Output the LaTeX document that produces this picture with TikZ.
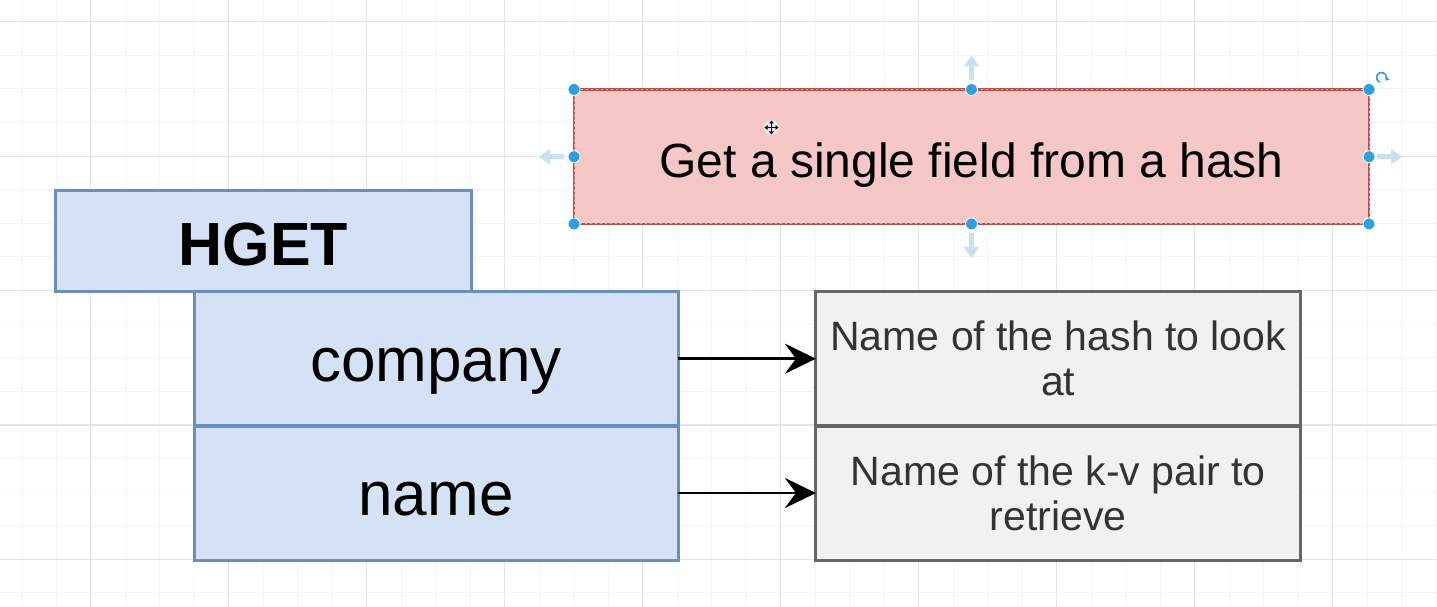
\documentclass[tikz,border=0pt]{standalone}
\usepackage{fontspec}
\setmainfont{Liberation Sans}
\usetikzlibrary{arrows.meta}
\definecolor{bluefill}{RGB}{213,226,245}
\definecolor{bluedraw}{RGB}{108,142,191}
\definecolor{grayfill}{RGB}{241,241,241}
\definecolor{graydraw}{RGB}{102,102,102}
\definecolor{redfill}{RGB}{245,200,199}
\definecolor{reddraw}{RGB}{184,84,80}
\definecolor{reddash}{RGB}{230,160,158}
\definecolor{handledot}{RGB}{45,160,225}
\definecolor{hint}{RGB}{200,224,244}
\definecolor{gridminor}{RGB}{244,244,244}
\definecolor{gridmajor}{RGB}{229,229,229}
\definecolor{textgray}{RGB}{51,51,51}
\begin{document}
\begin{tikzpicture}[x=1pt,y=-1pt,
  bluebox/.style={draw=bluedraw, fill=bluefill, line width=3pt, inner sep=0pt, outer sep=0pt, text=black},
  graybox/.style={draw=graydraw, fill=grayfill, line width=3pt, inner sep=0pt, outer sep=0pt, text=textgray, align=center, font=\fontsize{41}{45}\selectfont},
  redbox/.style={draw=reddraw, fill=redfill, line width=2.4pt, inner sep=0pt, outer sep=0pt, text=black},
  link/.style={line width=2.6pt, -{Stealth[length=31pt,width=30pt,inset=11pt]}},
  handle/.style={circle, fill=handledot, draw=white, line width=0.8pt, minimum size=12pt, inner sep=0pt},
  hintarrow/.style={draw=hint, line width=5pt, -{Triangle[length=11pt,width=15pt]}},
  minorline/.style={draw=gridminor, line width=1pt},
  majorline/.style={draw=gridmajor, line width=1.2pt}
]
\useasboundingbox (0,0) rectangle (1437,607);
\fill[white] (0,0) rectangle (1437,607);
% grid
\foreach \k in {0,...,41} {\draw[minorline] ({21.7+34.5*\k},0) -- ++(0,607);}
\foreach \k in {0,...,17} {\draw[minorline] (0,{21.7+33.6*\k}) -- ++(1437,0);}
\foreach \k in {0,...,9} {\draw[majorline] ({90.7+138*\k},0) -- ++(0,607);}
\foreach \k in {0,...,4} {\draw[majorline] (0,{21.7+134.4*\k}) -- ++(1437,0);}

% left stack
\node[bluebox, minimum width=415.5pt, minimum height=101pt, text height=64pt, text depth=15pt,
      font=\bfseries\fontsize{61}{70}\selectfont] (hget) at (263.3,241) {HGET};
\node[bluebox, minimum width=484pt, minimum height=134.5pt, text height=60pt, text depth=15pt,
      font=\fontsize{62}{70}\selectfont] (company) at (436,358.7) {company};
\node[bluebox, minimum width=484pt, minimum height=134pt, text height=60pt, text depth=15pt,
      font=\fontsize{62}{70}\selectfont] (name) at (436,493) {name};

% right stack
\node[graybox, minimum width=484.5pt, minimum height=134.5pt] (desc1) at (1058.2,358.7) {Name of the hash to look\\at};
\node[graybox, minimum width=484.5pt, minimum height=134pt] (desc2) at (1058.2,493) {Name of the k-v pair to\\retrieve};

% connectors
\draw[link] (company.east) -- (desc1.west);
\draw[link] (name.east) -- (desc2.west);

% selected red box
\node[redbox, minimum width=795pt, minimum height=134.5pt, text height=54pt, text depth=12pt,
      font=\fontsize{48}{56}\selectfont] (title) at (971.5,156.7) {Get a single field from a hash};
\draw[reddash, line width=1pt, dash pattern=on 2.5pt off 2.5pt] (title.north west) rectangle (title.south east);

% hover hint arrows
\draw[hintarrow] ([xshift=-10pt]title.west) -- ++(-25,0);
\draw[hintarrow] ([xshift=8pt]title.east) -- ++(25,0);
\draw[hintarrow] ([yshift=9pt]title.north) -- ++(0,-25);
\draw[hintarrow] ([yshift=-9pt]title.south) -- ++(0,25);

% selection handles
\node[handle] (hnw) at (title.north west) {};
\node[handle] (hn) at (title.north) {};
\node[handle] (hne) at (title.north east) {};
\node[handle] (hw) at (title.west) {};
\node[handle] (he) at (title.east) {};
\node[handle] (hsw) at (title.south west) {};
\node[handle] (hs) at (title.south) {};
\node[handle] (hse) at (title.south east) {};

% rotate icon
\coordinate (rot) at (1381.5,77.5);
\draw[handledot, line width=1.6pt, -{Triangle[length=3.5pt,width=5pt]}]
  ([shift={(110:5)}]rot) arc[start angle=110, end angle=400, radius=5];

% move cursor
\coordinate (mv) at (771.5,127.5);
\fill[white!85!gray, opacity=0.8] (mv) circle (7.5);
\draw[black, line width=1.3pt, {Triangle[length=3pt,width=4.5pt]}-{Triangle[length=3pt,width=4.5pt]}]
  ([xshift=-7pt]mv) -- ([xshift=7pt]mv);
\draw[black, line width=1.3pt, {Triangle[length=3pt,width=4.5pt]}-{Triangle[length=3pt,width=4.5pt]}]
  ([yshift=-7pt]mv) -- ([yshift=7pt]mv);
\end{tikzpicture}
\end{document}
